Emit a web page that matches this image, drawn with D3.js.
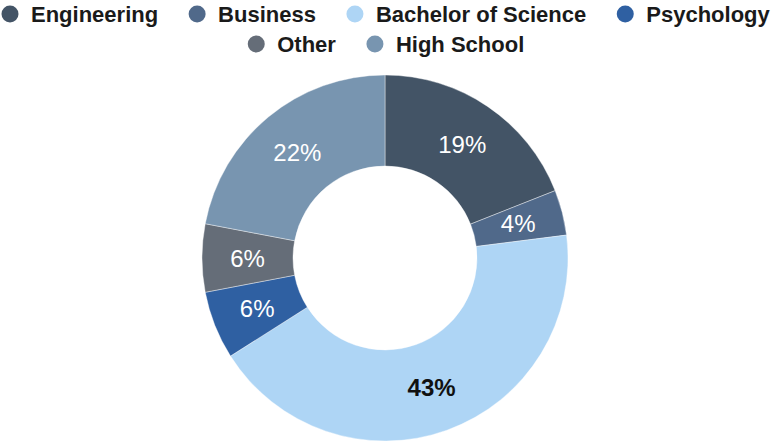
<!DOCTYPE html>
<html>
<head>
<meta charset="utf-8">
<script src="https://cdn.jsdelivr.net/npm/d3@7"></script>
<style>
  html, body { margin: 0; padding: 0; background: #fff; }
  svg { display: block; }
</style>
</head>
<body>
<svg id="chart" width="772" height="441"></svg>
<script>
const categories = ["Engineering", "Business", "Bachelor of Science", "Psychology", "Other", "High School"];
const values = [19, 4, 43, 6, 6, 22];
const colors = ["#435466", "#50698a", "#aed5f5", "#2f60a2", "#656d78", "#7895b0"];
const labelColors = ["#ffffff", "#ffffff", "#111111", "#ffffff", "#ffffff", "#ffffff"];
const labelWeights = ["normal", "normal", "bold", "normal", "normal", "normal"];
const legendRows = [[0, 1, 2, 3], [4, 5]];

const W = 772, H = 441;
const cx = 385, cy = 258, outerR = 183, innerR = 92;
const svg = d3.select("#chart");

const data = categories.map((c, i) => ({ name: c, value: values[i], i }));
const pie = d3.pie().value(d => d.value).sort(null);
const arc = d3.arc().innerRadius(innerR).outerRadius(outerR);
const labelArc = d3.arc().innerRadius((innerR + outerR) / 2).outerRadius((innerR + outerR) / 2);
const color = d3.scaleOrdinal().domain(categories).range(colors);

const g = svg.append("g").attr("transform", `translate(${cx},${cy})`);
const arcs = pie(data);
g.selectAll("path.slice").data(arcs).join("path")
  .attr("class", "slice")
  .attr("d", arc)
  .attr("fill", d => color(d.data.name))
  .attr("stroke", "#ffffff")
  .attr("stroke-opacity", 0.5)
  .attr("stroke-width", 0.8);

g.selectAll("text.lbl").data(arcs).join("text")
  .attr("class", "lbl")
  .attr("transform", d => { const [x, y] = labelArc.centroid(d); return `translate(${x},${y})`; })
  .attr("text-anchor", "middle")
  .attr("dominant-baseline", "central")
  .attr("font-family", "'Liberation Sans', Arial, sans-serif")
  .attr("font-size", 24)
  .attr("font-weight", d => labelWeights[d.data.i])
  .attr("fill", d => labelColors[d.data.i])
  .text(d => d.data.value + "%");

// Legend, centered rows
const r = 8.5, textGap = 21, itemGap = 39, fontSize = 22;
const rowY = [14, 44];
legendRows.forEach((row, ri) => {
  const rowG = svg.append("g");
  let x = 0;
  row.forEach(i => {
    const item = rowG.append("g").attr("transform", `translate(${x},${rowY[ri]})`);
    item.append("circle").attr("r", r).attr("fill", color(categories[i]));
    const t = item.append("text")
      .attr("x", textGap)
      .attr("dominant-baseline", "central")
      .attr("font-family", "'Liberation Sans', Arial, sans-serif")
      .attr("font-weight", "bold")
      .attr("font-size", fontSize)
      .attr("fill", "#1a1a1a")
      .text(categories[i]);
    x += textGap + t.node().getComputedTextLength() + itemGap;
  });
  const bb = rowG.node().getBBox();
  rowG.attr("transform", `translate(${(W - bb.width) / 2 - bb.x},0)`);
});
</script>
</body>
</html>
